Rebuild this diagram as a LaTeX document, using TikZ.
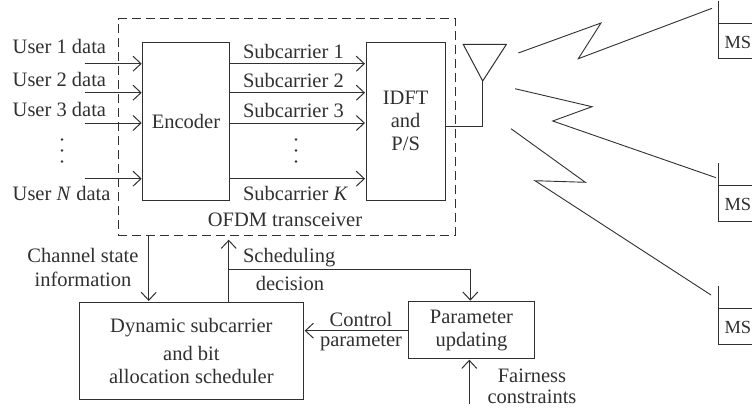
\documentclass[tikz,border=0pt]{standalone}
\usepackage{fontspec}
\setmainfont{Liberation Serif}
\usetikzlibrary{arrows.meta}
\definecolor{ink}{HTML}{303030}
\tikzset{
  x=1pt,y=-1pt,
  every node/.style={text=ink,font=\fontsize{20.5}{23}\selectfont,inner sep=0pt,outer sep=0pt},
  line/.style={draw=ink,line width=1pt},
  thin line/.style={draw=ink,line width=0.9pt,line join=miter},
  arrowline/.style={line,-{Straight Barb[length=8pt,width=15pt,line width=1pt]},shorten >=1pt},
  blockbox/.style={line,align=center,anchor=north west},
  lbl/.style={anchor=base west},
  clbl/.style={anchor=base},
  mslbl/.style={anchor=base west,font=\fontsize{18.5}{22}\selectfont},
  dotmark/.style={circle,fill=ink,minimum size=2.8pt},
}
\begin{document}
\begin{tikzpicture}
\useasboundingbox (0,0) rectangle (752,412);
\clip (0,0) rectangle (752,412);
% blocks
\node[draw=ink,line width=1pt,dash pattern=on 9pt off 5pt,minimum width=337pt,minimum height=216.5pt,anchor=north west] (ofdm) at (118,18.7) {};
\node[blockbox,minimum width=86.5pt,minimum height=157.7pt] (enc) at (142.7,42.3) {Encoder};
\node[blockbox,minimum width=79.3pt,minimum height=157.7pt] (idft) at (366,42.3) {IDFT\\and\\P/S};
\node[blockbox,minimum width=224.7pt,minimum height=97pt] (sched) at (79,302) {Dynamic subcarrier\\[5pt]and bit\\allocation scheduler};
\node[blockbox,minimum width=126.4pt,minimum height=57pt] (param) at (408.3,301.7) {Parameter\\updating};
% inputs
\node[lbl] (lu1) at (12.7,54) {User 1 data};
\node[lbl] (lu2) at (12.7,86.7) {User 2 data};
\node[lbl] (lu3) at (12.7,116.7) {User 3 data};
\node[lbl] (lun) at (12.7,200) {User \textit{N} data};
\node[dotmark] (dla) at (62,139.5) {};
\node[dotmark] (dlb) at (62,150.5) {};
\node[dotmark] (dlc) at (62,161.5) {};
\coordinate (u1) at (84.7,63.7);
\coordinate (u2) at (84.7,92.7);
\coordinate (u3) at (84.7,123);
\coordinate (un) at (84.7,178.7);
\foreach \c in {u1,u2,u3,un}{\draw[arrowline] (\c) -- (\c -| enc.west);}
% subcarriers
\node[lbl] (ls1) at (243,59) {Subcarrier 1};
\node[lbl] (ls2) at (243,88) {Subcarrier 2};
\node[lbl] (ls3) at (243,117) {Subcarrier 3};
\node[lbl] (lsk) at (243,200) {Subcarrier \textit{K}};
\node[dotmark] (dra) at (296,139.5) {};
\node[dotmark] (drb) at (296,150.5) {};
\node[dotmark] (drc) at (296,161.5) {};
\foreach \c in {u1,u2,u3,un}{\draw[arrowline] (\c -| enc.east) -- (\c -| idft.west);}
\node[clbl] (lofdm) at (285,226) {OFDM transceiver};
% antenna
\coordinate (a1) at (463.3,44.5);
\coordinate (a2) at (506.3,44.5);
\coordinate (a3) at (482.7,81);
\coordinate (a4) at (482.7,126.7);
\draw[line] (a1) -- (a2) -- (a3) -- cycle;
\draw[line] (a3) -- (a4) -- (a4 -| idft.east);
% radio links
\coordinate (r1a) at (518.3,53);
\coordinate (r1b) at (601,23);
\coordinate (r1c) at (578.3,58.7);
\coordinate (r1d) at (712,8.3);
\coordinate (r2a) at (515,88.7);
\coordinate (r2b) at (592,106.7);
\coordinate (r2c) at (552.7,121);
\coordinate (r2d) at (716,177.7);
\coordinate (r3a) at (511,128.7);
\coordinate (r3b) at (585.3,182.3);
\coordinate (r3c) at (535,180.7);
\coordinate (r3d) at (711,295);
\draw[thin line] (r1a) -- (r1b) -- (r1c) -- (r1d);
\draw[thin line] (r2a) -- (r2b) -- (r2c) -- (r2d);
\draw[thin line] (r3a) -- (r3b) -- (r3c) -- (r3d);
% mobile stations
\node[mslbl] (ms1) at (724.5,48.3) {MS};
\node[mslbl] (ms2) at (724.5,210.7) {MS};
\node[mslbl] (ms3) at (724.5,333) {MS};
\draw[line] (718,1) -- (718,59) -- (752,59) (718,23.7) -- (752,23.7);
\draw[line] (718,163.3) -- (718,221) -- (752,221) (718,185.7) -- (752,185.7);
\draw[line] (718,286) -- (718,344) -- (752,344) (718,308.7) -- (752,308.7);
% feedback
\coordinate (csi) at (148.7,0);
\draw[arrowline] (csi |- ofdm.south) -- (csi |- sched.north);
\node[clbl] (lcsi1) at (83,262.7) {Channel state};
\node[clbl] (lcsi2) at (83,286) {information};
\coordinate (dec) at (228.7,238.7);
\coordinate (tap) at (228.7,269.7);
\coordinate (corner) at (470.3,269.7);
\draw[arrowline] (dec |- sched.north) -- (dec);
\draw[arrowline] (tap) -- (corner) -- (corner |- param.north);
\node[lbl] (lsch) at (243,262.7) {Scheduling};
\node[clbl] (ldec) at (290,290) {decision};
\coordinate (ctl) at (0,330.7);
\draw[arrowline] (ctl -| param.west) -- (ctl -| sched.east);
\node[clbl] (lctl1) at (361,326.7) {Control};
\node[clbl] (lctl2) at (361,346) {parameter};
\coordinate (fair) at (469.3,404);
\draw[arrowline] (fair) -- (fair |- param.south);
\node[clbl] (lf1) at (532,382) {Fairness};
\node[clbl] (lf2) at (532,403) {constraints};
\end{tikzpicture}
\end{document}
